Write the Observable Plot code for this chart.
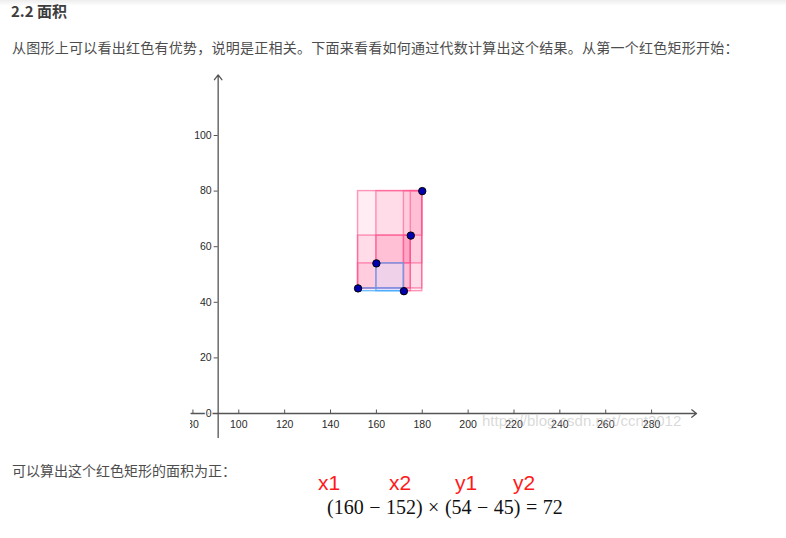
<!DOCTYPE html>
<html>
<head>
<meta charset="utf-8">
<script src="https://cdn.jsdelivr.net/npm/d3@7"></script>
<script src="https://cdn.jsdelivr.net/npm/@observablehq/plot@0.6"></script>
<style>
  html, body { margin: 0; padding: 0; background: #fff; }
  body { width: 786px; height: 538px; position: relative; overflow: hidden; font-family: "Noto Sans CJK SC", "Noto Sans", sans-serif; }
  .abs { position: absolute; white-space: nowrap; }
  .shadow { left: 0; top: 0; width: 786px; height: 6px; background: linear-gradient(rgba(0,0,0,0.07), rgba(0,0,0,0)); }
  .title { left: 11px; top: 1px; font-size: 15px; line-height: 20px; font-weight: bold; color: #3d3d3d; }
  .para { left: 12px; font-size: 14px; line-height: 20px; color: #4d4d4d; letter-spacing: 0.25px; }
  .red { font-family: "Liberation Sans", Arial, sans-serif; font-size: 21px; line-height: 24px; color: #ff1a1a; }
  .formula { font-family: "Liberation Serif", "DejaVu Serif", serif; font-size: 20px; line-height: 24px; color: #111; word-spacing: 0.5px; }
  .wm { font-family: "Liberation Sans", Arial, sans-serif; font-size: 15px; color: rgba(185,185,185,0.55); }
  #chart { left: 190px; top: 65px; }
</style>
</head>
<body>
<div class="abs shadow"></div>
<div class="abs title">2.2 面积</div>
<div class="abs para" style="top:37px">从图形上可以看出红色有优势，说明是正相关。下面来看看如何通过代数计算出这个结果。从第一个红色矩形开始：</div>
<div id="chart" class="abs"></div>
<div class="abs wm" style="left:482px; top:412px">https://blog.csdn.net/ccnt2012</div>
<div class="abs para" style="top:460px; letter-spacing:0">可以算出这个红色矩形的面积为正：</div>
<div id="labels"></div>
<div class="abs formula" style="left:327px; top:495px">(160 − 152) × (54 − 45) = 72</div>
<script>
// data points
const xs = [152, 160, 172, 175, 180];
const ys = [45, 54, 44, 64, 80];
// axis ticks
const xTicks = [80, 100, 120, 140, 160, 180, 200, 220, 240, 260, 280];
const yTicks = [0, 20, 40, 60, 80, 100];
// annotation labels
const varLabels = ["x1", "x2", "y1", "y2"];
const varLeft = [318, 389, 455, 513];

// view extents (layout)
const W = 512, H = 373;
const xDomain = [78.94, 302.2];
const yDomain = [-8.99, 125.18];
const yAxisX = 91.0;
const xAxisSpan = [79.2, 299.6];
const yAxisSpan = [-9.2, 121.8];

const pts = xs.map((x, i) => ({x, y: ys[i]}));
const rects = [];
for (let i = 0; i < pts.length; i++) {
  for (let j = i + 1; j < pts.length; j++) {
    const a = pts[i], b = pts[j];
    const s = (b.x - a.x) * (b.y - a.y);
    rects.push({x1: a.x, x2: b.x, y1: a.y, y2: b.y, sign: s >= 0 ? 1 : -1});
  }
}
const redRects = rects.filter(r => r.sign > 0);
const blueRects = rects.filter(r => r.sign < 0);

const pxPerX = W / (xDomain[1] - xDomain[0]);
const pxPerY = H / (yDomain[1] - yDomain[0]);
const axisColor = "#555";
const labelFont = "Liberation Sans, Arial, sans-serif";

const chart = Plot.plot({
  width: W,
  height: H,
  margin: 0,
  x: {domain: xDomain, axis: null},
  y: {domain: yDomain, axis: null},
  style: {overflow: "hidden", background: "white"},
  marks: [
    // axes
    Plot.arrow([0], {x1: xAxisSpan[0], x2: xAxisSpan[1], y1: 0, y2: 0, stroke: axisColor, strokeWidth: 1.3, headLength: 7, headAngle: 75}),
    Plot.arrow([0], {x1: yAxisX, x2: yAxisX, y1: yAxisSpan[0], y2: yAxisSpan[1], stroke: axisColor, strokeWidth: 1.3, headLength: 7, headAngle: 75}),
    Plot.ruleX(xTicks, {x: d => d, y1: 0, y2: 3.5 / pxPerY, stroke: axisColor, strokeWidth: 1}),
    Plot.ruleY(yTicks, {y: d => d, x1: yAxisX - 4 / pxPerX, x2: yAxisX, stroke: axisColor, strokeWidth: 1}),
    Plot.text(xTicks, {x: d => d, y: 0, dy: 11.5, text: d => String(d), fontSize: 10.5, fontFamily: labelFont, fill: "#2a2a2a"}),
    Plot.text(yTicks, {x: yAxisX, y: d => d, dx: -6.5, textAnchor: "end", text: d => String(d), fontSize: 10.5, fontFamily: labelFont, fill: "#2a2a2a", stroke: "white", strokeWidth: 2.5}),
    // covariance rectangles
    Plot.rect(redRects, {x1: "x1", x2: "x2", y1: "y1", y2: "y2", fill: "#ff3377", fillOpacity: 0.09, stroke: "#ff5590", strokeOpacity: 0.6, strokeWidth: 1.4}),
    Plot.rect(blueRects, {x1: "x1", x2: "x2", y1: "y1", y2: "y2", fill: "#4d66ff", fillOpacity: 0.09, stroke: "#44aaff", strokeOpacity: 0.75, strokeWidth: 1.4}),
    // points
    Plot.dot(pts, {x: "x", y: "y", r: 3.7, fill: "#0000b0", stroke: "#000", strokeWidth: 1})
  ]
});
document.getElementById("chart").appendChild(chart);

const lab = document.getElementById("labels");
varLabels.forEach((t, i) => {
  const d = document.createElement("div");
  d.className = "abs red";
  d.style.left = varLeft[i] + "px";
  d.style.top = "471px";
  d.textContent = t;
  lab.appendChild(d);
});
</script>
</body>
</html>
